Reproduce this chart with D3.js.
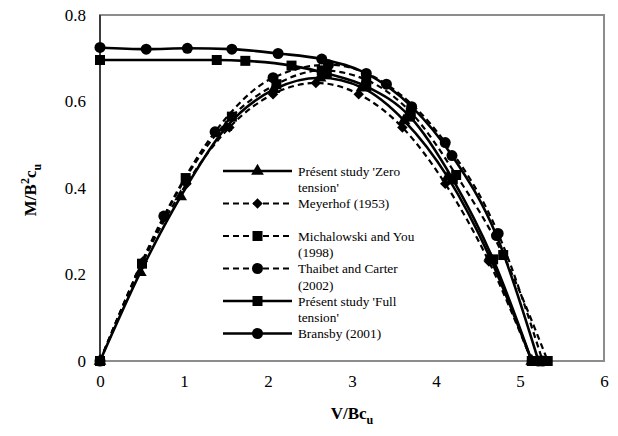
<!DOCTYPE html>
<html>
<head>
<meta charset="utf-8">
<script src="https://cdn.jsdelivr.net/npm/d3@7"></script>
<style>
    body { margin: 0; background: #fff; }
    svg text { font-family: "Liberation Serif", "Times New Roman", Times, "DejaVu Serif", serif; fill: #000; }
</style>
</head>
<body>
<div id="chart"></div>
<script>
// Tick labels
var xTicks = [0, 1, 2, 3, 4, 5, 6];
var yTicks = [0, 0.2, 0.4, 0.6, 0.8];

// Series: Présent study 'Zero tension'
var zeroX = [0, 0.48, 0.96, 1.5, 2.07, 2.62, 3.12, 3.62, 4.14, 4.64, 5.14];
var zeroY = [0, 0.205, 0.38, 0.54, 0.628, 0.655, 0.632, 0.556, 0.425, 0.24, 0];
// Series: Meyerhof (1953)
var meyerX = [0, 0.51, 1.03, 1.54, 2.06, 2.57, 3.08, 3.6, 4.11, 4.63, 5.14];
var meyerY = [0, 0.23, 0.41, 0.54, 0.617, 0.643, 0.617, 0.54, 0.41, 0.23, 0];
// Series: Michalowski and You (1998)
var michX = [0, 0.5, 1.02, 1.57, 2.1, 2.64, 3.17, 3.7, 4.24, 4.8, 5.33];
var michY = [0, 0.225, 0.423, 0.565, 0.64, 0.672, 0.65, 0.575, 0.43, 0.245, 0];
// Series: Thaibet and Carter (2002)
var thaiX = [0, 0.76, 1.37, 2.06, 2.72, 3.41, 4.11, 4.74, 5.27];
var thaiY = [0, 0.335, 0.53, 0.655, 0.685, 0.64, 0.505, 0.295, 0];
// Series: Présent study 'Full tension'
var fullX = [0, 1.39, 1.73, 2.28, 2.7, 3.17, 3.69, 4.2, 4.68, 5.14];
var fullY = [0.696, 0.696, 0.694, 0.683, 0.665, 0.635, 0.565, 0.42, 0.235, 0];
// Series: Bransby (2001)
var bransX = [0, 0.55, 1.04, 1.57, 2.12, 2.64, 3.17, 3.71, 4.19, 4.72, 5.22];
var bransY = [0.725, 0.721, 0.723, 0.721, 0.711, 0.698, 0.665, 0.588, 0.475, 0.29, 0];

// Legend labels (two lines where the original wraps)
var legendNames = [
    ["Présent study 'Zero", "tension'"],
    ['Meyerhof (1953)'],
    ['Michalowski and You', '(1998)'],
    ['Thaibet and Carter', '(2002)'],
    ["Présent study 'Full", "tension'"],
    ['Bransby (2001)']
];

var serif = '"Liberation Serif", "Times New Roman", Times, "DejaVu Serif", serif';

// Diamond drawn as a rotated square
var diamond = {
    draw: function(context, size) {
        var r = Math.sqrt(size) / 2;
        context.moveTo(0, -r);
        context.lineTo(r, 0);
        context.lineTo(0, r);
        context.lineTo(-r, 0);
        context.closePath();
    }
};

function zip(xs, ys) {
    return xs.map(function(x, i) { return {x: x, y: ys[i]}; });
}

var series = [
    {data: zip(zeroX, zeroY), dash: null, symbol: d3.symbolTriangle, size: 70},
    {data: zip(meyerX, meyerY), dash: '6,4', symbol: diamond, size: 110},
    {data: zip(michX, michY), dash: '6,4', symbol: d3.symbolSquare, size: 100},
    {data: zip(thaiX, thaiY), dash: '6,4', symbol: d3.symbolCircle, size: 95},
    {data: zip(fullX, fullY), dash: null, symbol: d3.symbolSquare, size: 100},
    {data: zip(bransX, bransY), dash: null, symbol: d3.symbolCircle, size: 95}
];
series.forEach(function(s, i) { s.name = legendNames[i]; });

var width = 618, height = 436;
var plot = {left: 100, right: 604, top: 15, bottom: 361};

// Scales
var x = d3.scaleLinear().domain([0, 6]).range([plot.left, plot.right]);
var y = d3.scaleLinear().domain([0, 0.8]).range([plot.bottom, plot.top]);

var svg = d3.select('#chart')
    .append('svg')
    .attr('width', width)
    .attr('height', height)
    .attr('font-family', serif);

// Plot area border
svg.append('rect')
    .attr('x', plot.left)
    .attr('y', plot.top)
    .attr('width', plot.right - plot.left)
    .attr('height', plot.bottom - plot.top)
    .attr('fill', 'none')
    .attr('stroke', '#8c8c8c')
    .attr('stroke-width', 2);

// Axes without tick marks, labels only
var xAxis = d3.axisBottom(x).tickValues(xTicks).tickSize(0).tickPadding(14).tickFormat(d3.format('d'));
var yAxis = d3.axisLeft(y).tickValues(yTicks).tickSize(0).tickPadding(14).tickFormat(function(d) { return d === 0 ? '0' : d3.format('.1f')(d); });

var gx = svg.append('g')
    .attr('transform', 'translate(0,' + plot.bottom + ')')
    .call(xAxis);
var gy = svg.append('g')
    .attr('transform', 'translate(' + plot.left + ',0)')
    .call(yAxis);
[gx, gy].forEach(function(g) {
    g.attr('font-family', serif).attr('font-size', 17);
    g.select('.domain').remove();
    g.selectAll('text')
        .attr('font-family', serif)
        .attr('font-size', 17)
        .attr('fill', '#000');
});

// Left axis line
svg.append('line')
    .attr('x1', plot.left).attr('x2', plot.left)
    .attr('y1', plot.top).attr('y2', plot.bottom)
    .attr('stroke', '#222')
    .attr('stroke-width', 1.5);

// Axis titles
var xt = svg.append('text')
    .attr('x', 352)
    .attr('y', 419)
    .attr('text-anchor', 'middle')
    .attr('font-family', serif)
    .attr('font-size', 17)
    .attr('font-weight', 'bold');
xt.append('tspan').text('V/Bc');
xt.append('tspan').attr('dy', 5).attr('font-size', 12).text('u');

var yt = svg.append('text')
    .attr('transform', 'translate(36,190) rotate(-90)')
    .attr('text-anchor', 'middle')
    .attr('font-family', serif)
    .attr('font-size', 17)
    .attr('font-weight', 'bold');
yt.append('tspan').text('M/B');
yt.append('tspan').attr('dy', -7).attr('font-size', 12).text('2');
yt.append('tspan').attr('dy', 7).text('c');
yt.append('tspan').attr('dy', 5).attr('font-size', 12).text('u');

// Smoothed lines
var line = d3.line()
    .curve(d3.curveMonotoneX)
    .x(function(d) { return x(d.x); })
    .y(function(d) { return y(d.y); });

series.forEach(function(s) {
    svg.append('path')
        .attr('d', line(s.data))
        .attr('fill', 'none')
        .attr('stroke', '#000')
        .attr('stroke-width', s.dash ? 2.2 : 2.6)
        .attr('stroke-dasharray', s.dash);
});

// Markers
series.forEach(function(s) {
    svg.append('g')
        .selectAll('path')
        .data(s.data)
        .enter()
        .append('path')
            .attr('d', d3.symbol().type(s.symbol).size(s.size))
            .attr('transform', function(d) { return 'translate(' + x(d.x) + ',' + y(d.y) + ')'; })
            .attr('fill', '#000');
});

// Legend
var legend = svg.append('g');
series.forEach(function(s, i) {
    var ly = 171 + i * 32.5;
    legend.append('line')
        .attr('x1', 223).attr('x2', 292)
        .attr('y1', ly).attr('y2', ly)
        .attr('stroke', '#000')
        .attr('stroke-width', s.dash ? 2.2 : 2.6)
        .attr('stroke-dasharray', s.dash);
    legend.append('path')
        .attr('d', d3.symbol().type(s.symbol).size(s.size))
        .attr('transform', 'translate(257.5,' + ly + ')')
        .attr('fill', '#000');
    s.name.forEach(function(t, j) {
        legend.append('text')
            .attr('x', 298)
            .attr('y', ly + 4.5 + j * 16.5)
            .attr('font-family', serif)
            .attr('font-size', 13.3)
            .text(t);
    });
});
</script>
</body>
</html>
